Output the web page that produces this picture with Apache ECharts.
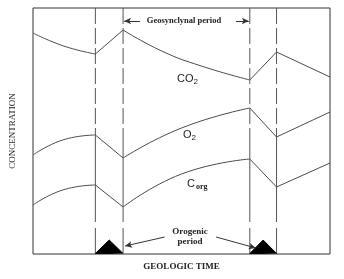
<!DOCTYPE html>
<html>
<head>
<meta charset="utf-8">
<script src="https://cdn.jsdelivr.net/npm/echarts@6/dist/echarts.min.js"></script>
<style>
  html, body { margin: 0; padding: 0; background: #fff; }
  #chart { width: 344px; height: 279px; }
</style>
</head>
<body>
<div id="chart"></div>
<script>
    // 曲线数据 (x: 地质时间, y: 浓度, 任意单位)
    var co2X = [0, 31, 63, 91, 130, 170, 219, 246, 300];
    var co2Y = [221, 208, 200, 224, 203, 188, 174, 202, 177];
    var o2X = [0, 30, 63, 91, 150, 219, 246, 300];
    var o2Y = [99, 114, 119, 96, 126, 146, 117, 142];
    var corgX = [0, 30, 63, 91, 150, 219, 246, 300];
    var corgY = [49, 64, 69, 47, 80, 95, 67, 91];
    // 造山期边界
    var orogenyBounds = [[63, 91], [219, 246]];
    var triangleHeight = 14;

    var chart = echarts.init(document.getElementById('chart'));

    // 在拐点处断开, 每段单独平滑
    function segments(xs, ys, name) {
        var breaks = [0];
        for (var b = 0; b < orogenyBounds.length; b++) {
            breaks.push(xs.indexOf(orogenyBounds[b][0]));
            breaks.push(xs.indexOf(orogenyBounds[b][1]));
        }
        breaks.push(xs.length - 1);
        var out = [];
        for (var i = 0; i < breaks.length - 1; i++) {
            var pts = [];
            for (var j = breaks[i]; j <= breaks[i + 1]; j++) pts.push([xs[j], ys[j]]);
            out.push({
                name: name, type: 'line', data: pts, symbol: 'none',
                smooth: pts.length > 2 ? 0.5 : false,
                lineStyle: { color: '#4a4a4a', width: 1 }, z: 3, silent: true
            });
        }
        return out;
    }

    var series = [];
    series = series.concat(segments(co2X, co2Y, 'CO2'));
    series = series.concat(segments(o2X, o2Y, 'O2'));
    series = series.concat(segments(corgX, corgY, 'Corg'));

    // 竖线: 上部虚线, 下部实线(中间留缺口)
    orogenyBounds.forEach(function (pair) {
        pair.forEach(function (x) {
            series.push({ type: 'line', symbol: 'none', silent: true, data: [[x, 246], [x, 124]],
                lineStyle: { color: '#555', width: 1, type: [16, 4] } });
            series.push({ type: 'line', symbol: 'none', silent: true, data: [[x, 124], [x, 32]],
                lineStyle: { color: '#555', width: 1 } });
            series.push({ type: 'line', symbol: 'none', silent: true, data: [[x, 26], [x, 0]],
                lineStyle: { color: '#555', width: 1 } });
        });
        // 黑色三角
        series.push({ type: 'line', symbol: 'none', silent: true, z: 4,
            data: [[pair[0], 0.5], [(pair[0] + pair[1]) / 2, triangleHeight], [pair[1], 0.5]],
            lineStyle: { color: '#000', width: 1 },
            areaStyle: { color: '#000', opacity: 1 } });
    });

    // 箭头
    series.push({
        type: 'line', data: [], silent: true,
        markLine: {
            silent: true, symbol: ['none', 'arrow'], symbolSize: [5, 7],
            label: { show: false },
            lineStyle: { color: '#333', width: 1, type: 'solid' },
            data: [
                [{ coord: [108, 233] }, { coord: [92, 233] }],
                [{ coord: [205, 233] }, { coord: [218, 233] }],
                [{ coord: [133, 17] }, { coord: [93, 8] }],
                [{ coord: [185, 17] }, { coord: [225, 6] }]
            ]
        }
    });

    var serif = 'Liberation Serif';
    var sans = 'Liberation Sans';

    chart.setOption({
        animation: false,
        grid: { left: 30, right: 14, top: 8, bottom: 25, show: true, borderColor: '#333', borderWidth: 1 },
        xAxis: {
            type: 'value', min: 0, max: 300,
            axisLine: { show: false }, axisTick: { show: false }, axisLabel: { show: false }, splitLine: { show: false },
            name: 'GEOLOGIC TIME', nameLocation: 'middle', nameGap: 8,
            nameTextStyle: { fontFamily: serif, fontSize: 9, fontWeight: 'bold', color: '#222' }
        },
        yAxis: {
            type: 'value', min: 0, max: 246,
            axisLine: { show: false }, axisTick: { show: false }, axisLabel: { show: false }, splitLine: { show: false },
            name: 'CONCENTRATION', nameLocation: 'middle', nameGap: 16, nameRotate: 90,
            nameTextStyle: { fontFamily: serif, fontSize: 9, color: '#222' }
        },
        graphic: [
            { type: 'text', x: 184, y: 16, style: { text: 'Geosynclynal period', font: 'bold 8.5px ' + serif, fill: '#222', align: 'center' } },
            { type: 'text', x: 190, y: 227, style: { text: 'Orogenic', font: 'bold 9px ' + serif, fill: '#222', align: 'center' } },
            { type: 'text', x: 190, y: 237, style: { text: 'period', font: 'bold 9px ' + serif, fill: '#222', align: 'center' } },
            { type: 'text', x: 177, y: 72, style: { text: '{a|CO}{b|2}', rich: {
                a: { fontFamily: sans, fontSize: 11, fill: '#222' },
                b: { fontFamily: sans, fontSize: 8, fill: '#222', padding: [6, 0, 0, 0] } } } },
            { type: 'text', x: 183, y: 128, style: { text: '{a|O}{b|2}', rich: {
                a: { fontFamily: sans, fontSize: 11, fill: '#222' },
                b: { fontFamily: sans, fontSize: 8, fill: '#222', padding: [6, 0, 0, 0] } } } },
            { type: 'text', x: 187, y: 177, style: { text: '{a|C}{b|org}', rich: {
                a: { fontFamily: sans, fontSize: 11, fill: '#222' },
                b: { fontFamily: serif, fontSize: 8, fontWeight: 'bold', fill: '#222', padding: [6, 0, 0, 1] } } } }
        ],
        series: series
    });
</script>
</body>
</html>
